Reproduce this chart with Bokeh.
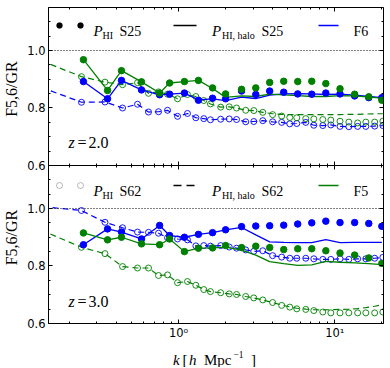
import math
from bokeh.plotting import figure
from bokeh.models import (Range1d, LinearAxis, LogAxis, FixedTicker,
                          CustomJSTickFormatter, Span, Label, Arrow, BoxAnnotation)
from bokeh.layouts import row, column
from bokeh.embed import file_html
from bokeh.resources import INLINE

BLUE = "#0000ff"
GREEN = "#008000"
SERIF = "Liberation Serif"
SANS = "DejaVu Sans"

# ---------------- data ----------------
# k bins of the 25 Mpc/h box (filled circles, solid lines)
k_s25 = [0.246, 0.351, 0.431, 0.579, 0.756, 0.876, 1.09, 1.34, 1.65, 2.00, 2.53,
         3.12, 3.83, 4.71, 5.79, 7.12, 8.76, 10.8, 13.4, 16.5, 20.0]
# k bins of the 62.5 Mpc/h box (open circles)
k_s62 = [0.239, 0.338, 0.438, 0.546, 0.642, 0.744, 0.850, 0.985, 1.14, 1.29, 1.45,
         1.60, 1.86, 2.11, 2.35, 2.69, 3.03, 3.46, 4.00, 4.57, 5.15, 5.71, 6.52,
         7.34, 8.38, 9.43, 10.8, 12.3, 14.0, 15.8, 18.0, 20.3]
# k bins of the halo-model curves for the 62.5 Mpc/h box (dashed lines)
k_h62 = [0.1005, 0.239, 0.338, 0.438, 0.546, 0.642, 0.744, 0.850, 0.985, 1.14, 1.29,
         1.45, 1.60, 1.86, 2.11, 2.35, 2.69, 3.03, 3.46, 4.00, 4.57, 5.15, 5.71,
         6.52, 7.34, 8.38, 9.43, 10.8, 12.3, 14.0, 15.8, 18.0, 20.3]

# z = 2.0
z2_f6_hi_s25 = [0.892, 0.832, 0.896, 0.863, 0.846, 0.848, 0.852, 0.827, 0.834, 0.832, 0.859,
                0.847, 0.859, 0.855, 0.849, 0.848, 0.852, 0.849, 0.842, 0.836, 0.836]
z2_f5_hi_s25 = [0.968, 0.861, 0.930, 0.891, 0.852, 0.887, 0.892, 0.896, 0.870, 0.849, 0.865,
                0.870, 0.889, 0.893, 0.892, 0.893, 0.885, 0.867, 0.848, 0.839, 0.827]
z2_f6_halo_s25 = [0.892, 0.832, 0.896, 0.863, 0.846, 0.848, 0.852, 0.828, 0.832, 0.826, 0.838,
                  0.833, 0.845, 0.849, 0.850, 0.849, 0.847, 0.848, 0.845, 0.840, 0.836]
z2_f5_halo_s25 = [0.968, 0.861, 0.930, 0.891, 0.852, 0.887, 0.892, 0.896, 0.868, 0.837, 0.842,
                  0.840, 0.848, 0.846, 0.843, 0.840, 0.840, 0.843, 0.842, 0.838, 0.834]
z2_f6_hi_s62 = [0.820, 0.821, 0.800, 0.813, 0.786, 0.787, 0.792, 0.771, 0.781, 0.766, 0.763,
                0.759, 0.761, 0.762, 0.760, 0.752, 0.753, 0.756, 0.752, 0.750, 0.745, 0.746,
                0.750, 0.740, 0.739, 0.741, 0.736, 0.735, 0.736, 0.736, 0.737, 0.739]
z2_f5_hi_s62 = [0.909, 0.890, 0.881, 0.888, 0.851, 0.856, 0.848, 0.832, 0.847, 0.840, 0.826,
                0.814, 0.803, 0.804, 0.800, 0.792, 0.791, 0.785, 0.777, 0.772, 0.767, 0.766,
                0.763, 0.762, 0.760, 0.758, 0.754, 0.751, 0.748, 0.751, 0.751, 0.754]
z2_f6_halo_s62 = [0.896, 0.820, 0.821, 0.800, 0.813, 0.786, 0.787, 0.792, 0.771, 0.781, 0.766,
                  0.763, 0.759, 0.761, 0.762, 0.760, 0.752, 0.753, 0.756, 0.752, 0.750, 0.745,
                  0.746, 0.750, 0.740, 0.739, 0.741, 0.736, 0.735, 0.736, 0.736, 0.737, 0.739]
z2_f5_halo_s62 = [0.990, 0.909, 0.890, 0.881, 0.888, 0.851, 0.856, 0.848, 0.832, 0.847, 0.840,
                  0.826, 0.814, 0.803, 0.804, 0.800, 0.792, 0.791, 0.785, 0.780, 0.778, 0.777,
                  0.777, 0.777, 0.777, 0.777, 0.777, 0.777, 0.778, 0.778, 0.779, 0.780, 0.780]

# z = 3.0
z3_f6_hi_s25 = [0.874, 0.929, 0.918, 0.894, 0.941, 0.906, 0.900, 0.910, 0.916, 0.926, 0.937,
                0.939, 0.940, 0.942, 0.946, 0.950, 0.956, 0.951, 0.951, 0.948, 0.938]
z3_f5_hi_s25 = [0.915, 0.891, 0.900, 0.877, 0.874, 0.894, 0.850, 0.862, 0.863, 0.871, 0.864,
                0.869, 0.864, 0.857, 0.860, 0.860, 0.853, 0.845, 0.838, 0.828, 0.809]
z3_f6_halo_s25 = [0.874, 0.929, 0.918, 0.894, 0.941, 0.906, 0.900, 0.910, 0.916, 0.926, 0.934,
                  0.908, 0.884, 0.882, 0.881, 0.881, 0.892, 0.881, 0.882, 0.882, 0.882]
z3_f5_halo_s25 = [0.915, 0.891, 0.900, 0.877, 0.874, 0.894, 0.850, 0.862, 0.863, 0.866, 0.855,
                  0.838, 0.815, 0.808, 0.802, 0.804, 0.816, 0.813, 0.811, 0.808, 0.805]
z3_f6_hi_s62 = [0.993, 0.952, 0.933, 0.918, 0.917, 0.914, 0.898, 0.894, 0.891, 0.870, 0.871,
                0.869, 0.871, 0.866, 0.862, 0.856, 0.851, 0.853, 0.836, 0.831, 0.827, 0.827,
                0.827, 0.825, 0.823, 0.823, 0.825, 0.823, 0.825, 0.825, 0.827, 0.830]
z3_f5_hi_s62 = [0.865, 0.843, 0.798, 0.793, 0.793, 0.767, 0.769, 0.742, 0.746, 0.733, 0.718,
                0.711, 0.707, 0.703, 0.701, 0.694, 0.689, 0.682, 0.673, 0.663, 0.657, 0.651,
                0.649, 0.645, 0.640, 0.637, 0.637, 0.637, 0.637, 0.637, 0.637, 0.640]
z3_f6_halo_s62 = [1.013, 0.993, 0.952, 0.933, 0.918, 0.917, 0.914, 0.898, 0.894, 0.891, 0.870,
                  0.871, 0.869, 0.871, 0.866, 0.862, 0.856, 0.851, 0.853, 0.836, 0.831, 0.827,
                  0.827, 0.827, 0.825, 0.823, 0.823, 0.825, 0.823, 0.825, 0.825, 0.827, 0.830]
z3_f5_halo_s62 = [0.952, 0.865, 0.843, 0.798, 0.793, 0.793, 0.767, 0.769, 0.742, 0.746, 0.733,
                  0.718, 0.711, 0.707, 0.703, 0.701, 0.694, 0.689, 0.682, 0.673, 0.664, 0.658,
                  0.653, 0.650, 0.648, 0.647, 0.648, 0.649, 0.650, 0.652, 0.655, 0.660, 0.666]

x_major = [1, 10]
x_minor = [0.2, 0.3, 0.4, 0.5, 0.6, 0.7, 0.8, 0.9, 2, 3, 4, 5, 6, 7, 8, 9, 20]
y_major = [0.6, 0.8, 1.0]
y_minor = [0.65, 0.7, 0.75, 0.85, 0.9, 0.95, 1.05, 1.1]

# ---------------- layout ----------------
X_LO, X_HI = 0.147, 20.5
# one frame holds both panels: the z=3 panel sits at the bottom of the default
# y range, the z=2 panel at the top of the "top" range (same scale, shifted)
BOT_TOP = 1.14957                     # upper end of the z=3 panel
MAIN_Y = Range1d(0.6, 1.69913)
TOP_RANGE = Range1d(0.05043, 1.14957)
OFFSET = BOT_TOP - 0.6                # shift between the two panel ranges

LEFT_STRIP = 24
FRAME_LEFT = 47                       # page x of the frame's left edge
FRAME_BOTTOM = 323                    # page y of the frame's bottom edge
PAGE_H = 367


def style_axis(ax, labels=False):
    ax.axis_line_color = "black"
    ax.major_tick_line_color = "black"
    ax.minor_tick_line_color = "black"
    ax.major_tick_in = 4
    ax.major_tick_out = 0
    ax.minor_tick_in = 2
    ax.minor_tick_out = 0
    if not labels:
        ax.formatter = CustomJSTickFormatter(code="return ''")
        ax.major_label_text_font_size = "0px"
        ax.major_label_standoff = 0
    else:
        ax.major_label_text_font = SANS
        ax.major_label_text_font_size = "11.5px"
        ax.major_label_text_color = "black"
        ax.major_label_standoff = 3
    return ax


p = figure(frame_width=335, frame_height=316, x_axis_type="log",
           x_range=Range1d(X_LO, X_HI), y_range=MAIN_Y,
           x_axis_location=None, y_axis_location=None,
           toolbar_location=None, output_backend="svg",
           min_border=0, min_border_left=FRAME_LEFT - LEFT_STRIP, min_border_right=4,
           min_border_top=7, min_border_bottom=24,
           outline_line_color="black", outline_line_width=1,
           background_fill_color="white", border_fill_color="white")
p.extra_y_ranges = {"top": TOP_RANGE}
p.grid.visible = False

# y ticks of both panels on one axis (upper panel ticks shifted into the main range)
y_ticks_all = y_major + [v + OFFSET for v in y_major]
y_minor_all = y_minor + [v + OFFSET for v in y_minor]


def yticker():
    return FixedTicker(ticks=y_ticks_all, minor_ticks=y_minor_all)


def xticker():
    return FixedTicker(ticks=x_major, minor_ticks=x_minor)


ax = style_axis(LinearAxis(ticker=yticker()), labels=True)
ax.formatter = CustomJSTickFormatter(args=dict(off=OFFSET, cut=BOT_TOP), code="""
    const v = tick > cut - 1e-6 ? tick - off : tick;
    return v.toFixed(1);
""")
p.add_layout(ax, "left")
p.add_layout(style_axis(LinearAxis(ticker=yticker(), fixed_location=X_HI)), "right")

# x axes: top edge, the shared border (ticks into both panels), bottom edge with labels
p.add_layout(style_axis(LogAxis(ticker=xticker(), fixed_location=MAIN_Y.end)), "above")
p.add_layout(style_axis(LogAxis(ticker=xticker(), y_range_name="top", fixed_location=0.6)), "below")
p.add_layout(style_axis(LogAxis(ticker=xticker(), y_range_name="top", fixed_location=0.6)), "above")
ax = style_axis(LogAxis(ticker=xticker()), labels=True)
ax.major_label_standoff = 2
ax.formatter = CustomJSTickFormatter(code="""
    const e = Math.round(Math.log10(tick));
    const sup = {'-1': '\u207b\u00b9', '0': '\u2070', '1': '\u00b9', '2': '\u00b2'};
    return '10' + sup[String(e)];
""")
p.add_layout(ax, "below")

p.add_layout(Span(location=1.0, dimension="width", line_color="black",
                  line_dash="1 2", line_width=1))
p.add_layout(Span(location=1.0, dimension="width", line_color="black",
                  line_dash="1 2", line_width=1, y_range_name="top"))


def plot_data(rn, f6_hi25, f5_hi25, f6_h25, f5_h25, f6_hi62, f5_hi62, f6_h62, f5_h62):
    kw = dict(y_range_name=rn)
    p.line(k_h62, f6_h62, line_color=BLUE, line_dash="6 4", line_width=1.2, **kw)
    p.line(k_h62, f5_h62, line_color=GREEN, line_dash="6 4", line_width=1.2, **kw)
    p.scatter(k_s62, f6_hi62, marker="circle", size=6, fill_color=None,
              line_color=BLUE, line_width=0.9, **kw)
    p.scatter(k_s62, f5_hi62, marker="circle", size=6, fill_color=None,
              line_color=GREEN, line_width=0.9, **kw)
    p.line(k_s25, f6_h25, line_color=BLUE, line_width=1.3, **kw)
    p.line(k_s25, f5_h25, line_color=GREEN, line_width=1.3, **kw)
    p.scatter(k_s25, f6_hi25, marker="circle", size=6.5, fill_color=BLUE,
              line_color=BLUE, **kw)
    p.scatter(k_s25, f5_hi25, marker="circle", size=6.5, fill_color=GREEN,
              line_color=GREEN, **kw)


plot_data("top", z2_f6_hi_s25, z2_f5_hi_s25, z2_f6_halo_s25, z2_f5_halo_s25,
          z2_f6_hi_s62, z2_f5_hi_s62, z2_f6_halo_s62, z2_f5_halo_s62)
plot_data("default", z3_f6_hi_s25, z3_f5_hi_s25, z3_f6_halo_s25, z3_f5_halo_s25,
          z3_f6_hi_s62, z3_f5_hi_s62, z3_f6_halo_s62, z3_f5_halo_s62)

sx = lambda px: px - FRAME_LEFT
sy = lambda py: FRAME_BOTTOM - py


def txt(fig, x, y, text, size, style="normal", align="left", baseline="alphabetic", angle=0):
    fig.add_layout(Label(x=x, y=y, x_units="screen", y_units="screen", text=text,
                         text_font=SERIF, text_font_size=f"{size}px",
                         text_font_style=style, text_color="black", angle=angle,
                         text_align=align, text_baseline=baseline))


def legend(yc, filled, dashed, name, fcolor, box):
    for cx in (58, 79):
        p.add_layout(BoxAnnotation(left=sx(cx - 3), right=sx(cx + 3), bottom=sy(yc + 3),
                                   top=sy(yc - 3), left_units="screen", right_units="screen",
                                   top_units="screen", bottom_units="screen",
                                   border_radius=3,
                                   fill_color="black" if filled else None,
                                   fill_alpha=1.0, line_color="black", line_width=0.9))
    base = yc + 5.5
    txt(p, sx(92), sy(base), "P", 15, "italic")
    txt(p, sx(101), sy(base + 4), "HI", 10)
    txt(p, sx(118), sy(base), box, 14)
    p.add_layout(Arrow(end=None, x_start=sx(172), y_start=sy(yc), x_end=sx(195), y_end=sy(yc),
                       start_units="screen", end_units="screen", line_color="black",
                       line_width=1.3, line_dash="8 5" if dashed else "solid"))
    txt(p, sx(210.5), sy(base), "P", 15, "italic")
    txt(p, sx(220.5), sy(base + 4), "HI, halo", 10)
    txt(p, sx(260), sy(base), box, 14)
    p.add_layout(Arrow(end=None, x_start=sx(317), y_start=sy(yc), x_end=sx(337), y_end=sy(yc),
                       start_units="screen", end_units="screen", line_color=fcolor,
                       line_width=1.3))
    txt(p, sx(352), sy(base), name, 14)


def zlabel(base, ztext):
    txt(p, sx(67), sy(base), "z", 16, "italic")
    txt(p, sx(76), sy(base), "=", 16)
    txt(p, sx(87), sy(base), ztext, 16)


legend(25, True, False, "F6", BLUE, "S25")
zlabel(141.7, "2.0")
legend(185, False, True, "F5", GREEN, "S62")
zlabel(300.7, "3.0")

# ---------------- y-axis titles (narrow strip on the left) ----------------
ylab = figure(width=LEFT_STRIP, height=PAGE_H, x_range=Range1d(0, 1), y_range=Range1d(0, 1),
              x_axis_location=None, y_axis_location=None, toolbar_location=None,
              output_backend="svg", min_border=0, outline_line_color=None,
              background_fill_color="white", border_fill_color="white")
ylab.grid.visible = False
for cy in (88.5, 237):
    txt(ylab, 11, PAGE_H - cy, "F5,6/GR", 16, align="center", baseline="middle",
        angle=math.pi / 2)

# ---------------- x-axis title (strip below, frame aligned with the plot frame) --------
XLAB_H = 20
xlab = figure(frame_width=335, height=XLAB_H, x_range=Range1d(0, 1), y_range=Range1d(0, 1),
              x_axis_location=None, y_axis_location=None, toolbar_location=None,
              output_backend="svg", min_border=0,
              min_border_left=FRAME_LEFT - LEFT_STRIP, min_border_right=4,
              outline_line_color=None,
              background_fill_color="white", border_fill_color="white")
xlab.grid.visible = False
xb = 7.5
txt(xlab, sx(171.5), xb, "k", 15, "italic")
txt(xlab, sx(181), xb, "[", 15)
txt(xlab, sx(187.5), xb, "h", 15, "italic")
txt(xlab, sx(202.5), xb, "Mpc", 15)
txt(xlab, sx(232), xb + 6, "\u22121", 9.5)
txt(xlab, sx(249.5), xb, "]", 15)

layout = row(ylab, column(p, xlab, spacing=0), spacing=0)
open("out.html", "w").write(file_html(layout, INLINE))
